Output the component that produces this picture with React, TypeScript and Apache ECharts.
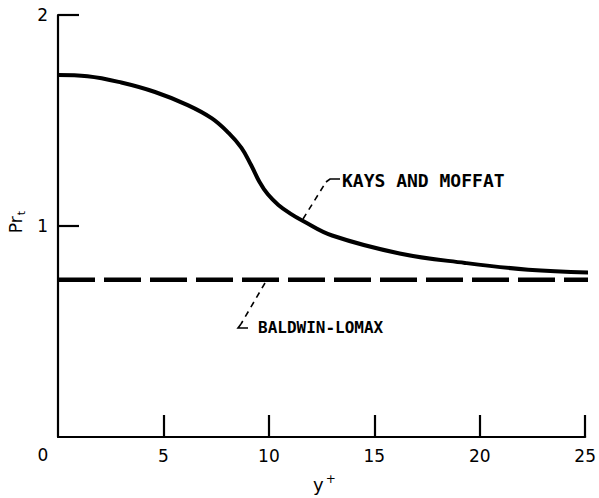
import React, { useEffect, useRef } from "react";
import * as echarts from "echarts";

// y+ positions and turbulent Prandtl number, Kays and Moffat model
const kaysX = [0, 1.4, 3.0, 4.6, 6.15, 7.3, 8.1, 8.7, 9.15, 9.55, 9.95, 10.45, 11.0, 11.6, 13.0, 16.2, 19.3, 22.3, 25.2];
const kaysY = [1.716, 1.71, 1.68, 1.635, 1.573, 1.51, 1.44, 1.37, 1.29, 1.21, 1.15, 1.1, 1.06, 1.025, 0.955, 0.87, 0.825, 0.793, 0.78];

// Baldwin-Lomax: constant turbulent Prandtl number
const baldwinX = [0, 25.5];
const baldwinY = [0.745, 0.745];

const xTicks = [0, 5, 10, 15, 20, 25];
const yTicks = [0, 1, 2];

const FONT = "DejaVu Sans";
const LABEL_FONT = "DejaVu Sans Mono";

export default function App() {
  const ref = useRef<HTMLDivElement>(null);

  useEffect(() => {
    if (!ref.current) return;
    const chart = echarts.init(ref.current, undefined, { renderer: "svg" });

    const dashLeader = { stroke: "#000", lineWidth: 1.6, lineDash: [6, 5], fill: null };
    const solidLeader = { stroke: "#000", lineWidth: 1.6, fill: null };

    chart.setOption({
      animation: false,
      backgroundColor: "#fff",
      grid: { left: 58, top: 15, right: 12, bottom: 61 },
      xAxis: {
        type: "value",
        min: xTicks[0],
        max: xTicks[xTicks.length - 1],
        interval: 5,
        axisLine: { show: true, lineStyle: { color: "#000", width: 2.2 } },
        axisTick: { show: true, inside: true, length: 22, lineStyle: { color: "#000", width: 2.2 } },
        axisLabel: {
          showMinLabel: false,
          margin: 10,
          color: "#000",
          fontFamily: FONT,
          fontSize: 17,
        },
        splitLine: { show: false },
      },
      yAxis: {
        type: "value",
        min: yTicks[0],
        max: yTicks[yTicks.length - 1],
        interval: 1,
        axisLine: { show: true, lineStyle: { color: "#000", width: 2.2 } },
        axisTick: { show: true, inside: true, length: 21, lineStyle: { color: "#000", width: 2.2 } },
        axisLabel: {
          showMinLabel: false,
          margin: 10,
          color: "#000",
          fontFamily: FONT,
          fontSize: 17,
        },
        splitLine: { show: false },
      },
      series: [
        {
          name: "KAYS AND MOFFAT",
          type: "line",
          data: kaysX.map((x, i) => [x, kaysY[i]]),
          showSymbol: false,
          smooth: 0.4,
          clip: false,
          lineStyle: { color: "#000", width: 4 },
        },
        {
          name: "BALDWIN-LOMAX",
          type: "line",
          data: baldwinX.map((x, i) => [x, baldwinY[i]]),
          showSymbol: false,
          clip: false,
          lineStyle: { color: "#000", width: 4.5, type: [37, 9], cap: "butt" },
        },
      ],
      graphic: [
        // shared origin label
        {
          type: "text",
          x: 43,
          y: 455,
          style: { text: "0", font: `17px '${FONT}'`, fill: "#000", align: "center", verticalAlign: "middle" },
        },
        // axis titles
        {
          type: "text",
          x: 313,
          y: 484,
          style: {
            text: "{a|y}{b|+}",
            verticalAlign: "middle",
            rich: {
              a: { fontFamily: FONT, fontSize: 18, fill: "#000" },
              b: { fontFamily: FONT, fontSize: 12, fill: "#000", padding: [0, 0, 10, 2] },
            },
          },
        },
        {
          type: "text",
          x: 16,
          y: 222,
          rotation: Math.PI / 2,
          style: {
            text: "{a|Pr}{b|t}",
            align: "center",
            verticalAlign: "middle",
            rich: {
              a: { fontFamily: FONT, fontSize: 17, fill: "#000" },
              b: { fontFamily: FONT, fontSize: 11, fill: "#000", padding: [10, 0, 0, 1] },
            },
          },
        },
        // KAYS AND MOFFAT annotation
        { type: "polyline", shape: { points: [[303, 219], [326, 182]] }, style: dashLeader },
        { type: "polyline", shape: { points: [[326, 182], [330, 179], [340, 179]] }, style: solidLeader },
        {
          type: "text",
          x: 342,
          y: 180,
          style: { text: "KAYS AND MOFFAT", font: `bold 18px '${LABEL_FONT}'`, fill: "#000", verticalAlign: "middle" },
        },
        // BALDWIN-LOMAX annotation
        { type: "polyline", shape: { points: [[265, 283], [241, 324]] }, style: dashLeader },
        { type: "polyline", shape: { points: [[241, 324], [238, 328], [248, 328]] }, style: solidLeader },
        {
          type: "text",
          x: 258,
          y: 327,
          style: { text: "BALDWIN-LOMAX", font: `bold 16px '${LABEL_FONT}'`, fill: "#000", verticalAlign: "middle" },
        },
      ],
    });

    return () => chart.dispose();
  }, []);

  return (
    <div
      ref={ref}
      style={{ position: "fixed", left: 0, top: 0, width: 599, height: 498, background: "#fff" }}
    />
  );
}
